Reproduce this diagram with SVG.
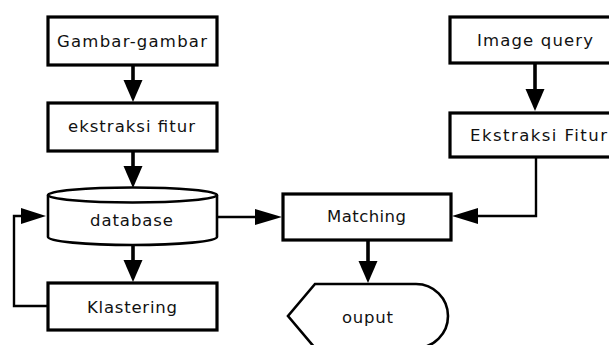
<svg xmlns="http://www.w3.org/2000/svg" width="609" height="345" viewBox="0 0 609 345">
<style>
.box{fill:#fff;stroke:#000;stroke-width:3.2}
.shape{fill:#fff;stroke:#000;stroke-width:2.6}
.t{font-family:"DejaVu Sans",sans-serif;font-size:16.5px;fill:#111;text-anchor:start}
.v{stroke:#000;stroke-width:3.6;fill:none}
.h{stroke:#000;stroke-width:2.4;fill:none}
.hd{fill:#000}
</style>
<rect width="609" height="345" fill="#fff"/>
<g id="connectors">
<line class="v" x1="133" y1="65" x2="133" y2="82"/>
<polygon class="hd" points="123.5,80 142.5,80 133,102"/>
<line class="v" x1="133" y1="151" x2="133" y2="168"/>
<polygon class="hd" points="123.5,166 142.5,166 133,188"/>
<line class="v" x1="133" y1="245" x2="133" y2="262"/>
<polygon class="hd" points="123.5,260 142.5,260 133,282"/>
<line class="v" x1="535" y1="63" x2="535" y2="92"/>
<polygon class="hd" points="525.5,89 544.5,89 535,111"/>
<line class="v" x1="368" y1="240" x2="368" y2="263"/>
<polygon class="hd" points="358.5,261 377.5,261 368,283"/>
<line class="h" x1="217" y1="217" x2="258" y2="217"/>
<polygon class="hd" points="255,209 255,225 282,217"/>
<polyline class="h" points="536,157 536,216 478,216"/>
<polygon class="hd" points="478,208 478,224 452,216"/>
<polyline class="h" points="48,306 14,306 14,216 24,216"/>
<polygon class="hd" points="21,208 21,224 46,216"/>
</g>
<g id="gambar">
<rect class="box" x="48" y="17" width="169" height="48"/>
<text class="t" x="57" y="47" textLength="150" lengthAdjust="spacing">Gambar-gambar</text>
</g>
<g id="ekstraksi">
<rect class="box" x="48" y="103" width="169" height="48"/>
<text class="t" x="68" y="132" textLength="127" lengthAdjust="spacing">ekstraksi fitur</text>
</g>
<g id="database">
<path class="shape" d="M48,195 A84.5,7.5 0 0 1 217,195 L217,237 A84.5,8 0 0 1 48,237 Z"/>
<path class="shape" d="M48,195 A84.5,7.5 0 0 0 217,195"/>
<text class="t" x="90" y="226" textLength="83" lengthAdjust="spacing">database</text>
</g>
<g id="klastering">
<rect class="box" x="48" y="283" width="169" height="47"/>
<text class="t" x="87" y="313" textLength="90" lengthAdjust="spacing">Klastering</text>
</g>
<g id="matching">
<rect class="box" x="283" y="194" width="168" height="46"/>
<text class="t" x="327" y="222" textLength="79" lengthAdjust="spacing">Matching</text>
</g>
<g id="ouput">
<path class="shape" d="M315,284 L416,284 A32,32 0 0 1 416,348 L315,348 L288,316 Z"/>
<text class="t" x="342" y="323" textLength="51" lengthAdjust="spacing">ouput</text>
</g>
<g id="imagequery">
<rect class="box" x="450" y="17" width="166" height="46"/>
<text class="t" x="477" y="46" textLength="116" lengthAdjust="spacing">Image query</text>
</g>
<g id="ekstraksifitur">
<rect class="box" x="450" y="113" width="166" height="44"/>
<text class="t" x="470" y="141" textLength="137" lengthAdjust="spacing">Ekstraksi Fitur</text>
</g>
</svg>
